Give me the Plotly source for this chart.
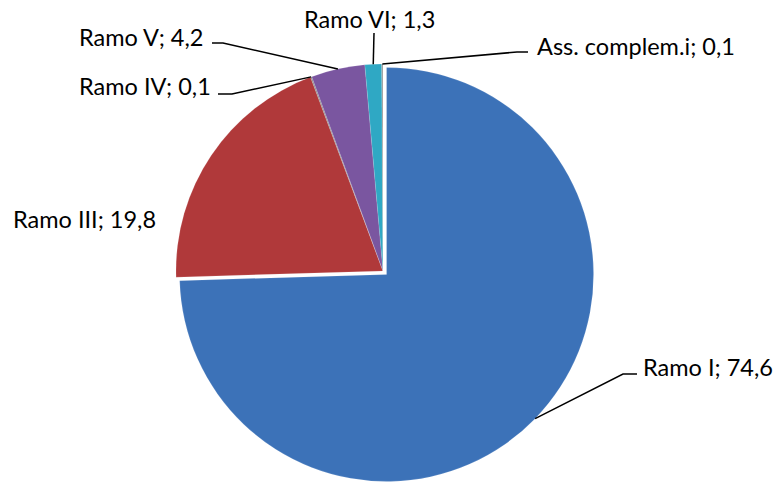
import math
import plotly.graph_objects as go

# ---- data ----
labels = ["Ramo I", "Ramo III", "Ramo IV", "Ramo V", "Ramo VI", "Ass. complem.i"]
values = [74.6, 19.8, 0.1, 4.2, 1.3, 0.1]
value_text = ["74,6", "19,8", "0,1", "4,2", "1,3", "0,1"]

# ---- style / layout ----
W, H = 781, 485
colors = ["#3C72B8", "#B0393A", "#8A8A8A", "#7A56A0", "#2FA8C4", "#9A9A9A"]
pulls = [0.024, 0, 0, 0, 0, 0]
CX, CY, R = 383, 271, 207          # pie centre / radius in pixels
box_half = R * (1 + max(pulls))

def px(x):
    return x / W

def py(y):
    return 1 - y / H

# label text anchor (left x, middle y) and leader elbow points (pixels); None = no leader
label_pos = [(641, 367), (11, 219), (77, 86), (77, 37), (302, 19), (535, 46)]
leader_end = [[(623, 374), (637, 374)], None, [(232, 94), (218, 94)],
              [(223, 43), (212, 43)], [(374, 33)], [(517, 52), (528, 52)]]

fig = go.Figure(go.Pie(
    labels=labels,
    values=values,
    sort=False,
    direction="clockwise",
    rotation=0,
    pull=pulls,
    marker=dict(colors=colors, line=dict(color="rgba(255,255,255,0.25)", width=0.5)),
    textinfo="none",
    hoverinfo="label+value",
    showlegend=False,
    domain=dict(x=[px(CX - box_half), px(CX + box_half)],
                y=[py(CY + box_half), py(CY - box_half)]),
))

total = sum(values)
cum = 0.0
shapes = []
annotations = []
for i, v in enumerate(values):
    mid = (cum + v / 2) / total * 2 * math.pi
    cum += v
    dx, dy = math.sin(mid), -math.cos(mid)
    cx = CX + pulls[i] * R * dx
    cy = CY + pulls[i] * R * dy
    ax, ay = cx + R * dx, cy + R * dy
    lx, ly = label_pos[i]
    annotations.append(dict(
        x=px(lx), y=py(ly), xref="paper", yref="paper",
        xanchor="left", yanchor="middle", showarrow=False,
        text=f"{labels[i]}; {value_text[i]}",
        font=dict(family="Lato, 'Open Sans', sans-serif", size=23.5, color="#000000"),
    ))
    if leader_end[i]:
        pts = [(ax, ay)] + leader_end[i]
        path = "M " + " L ".join(f"{px(x):.5f},{py(y):.5f}" for x, y in pts)
        shapes.append(dict(type="path", path=path, xref="paper", yref="paper",
                           line=dict(color="#000000", width=1.5)))

fig.update_layout(
    width=W, height=H,
    margin=dict(l=0, r=0, t=0, b=0),
    paper_bgcolor="white",
    plot_bgcolor="white",
    shapes=shapes,
    annotations=annotations,
)

fig.write_html("out.html", config={"displayModeBar": False},
               post_script="document.body.style.margin='0';")
